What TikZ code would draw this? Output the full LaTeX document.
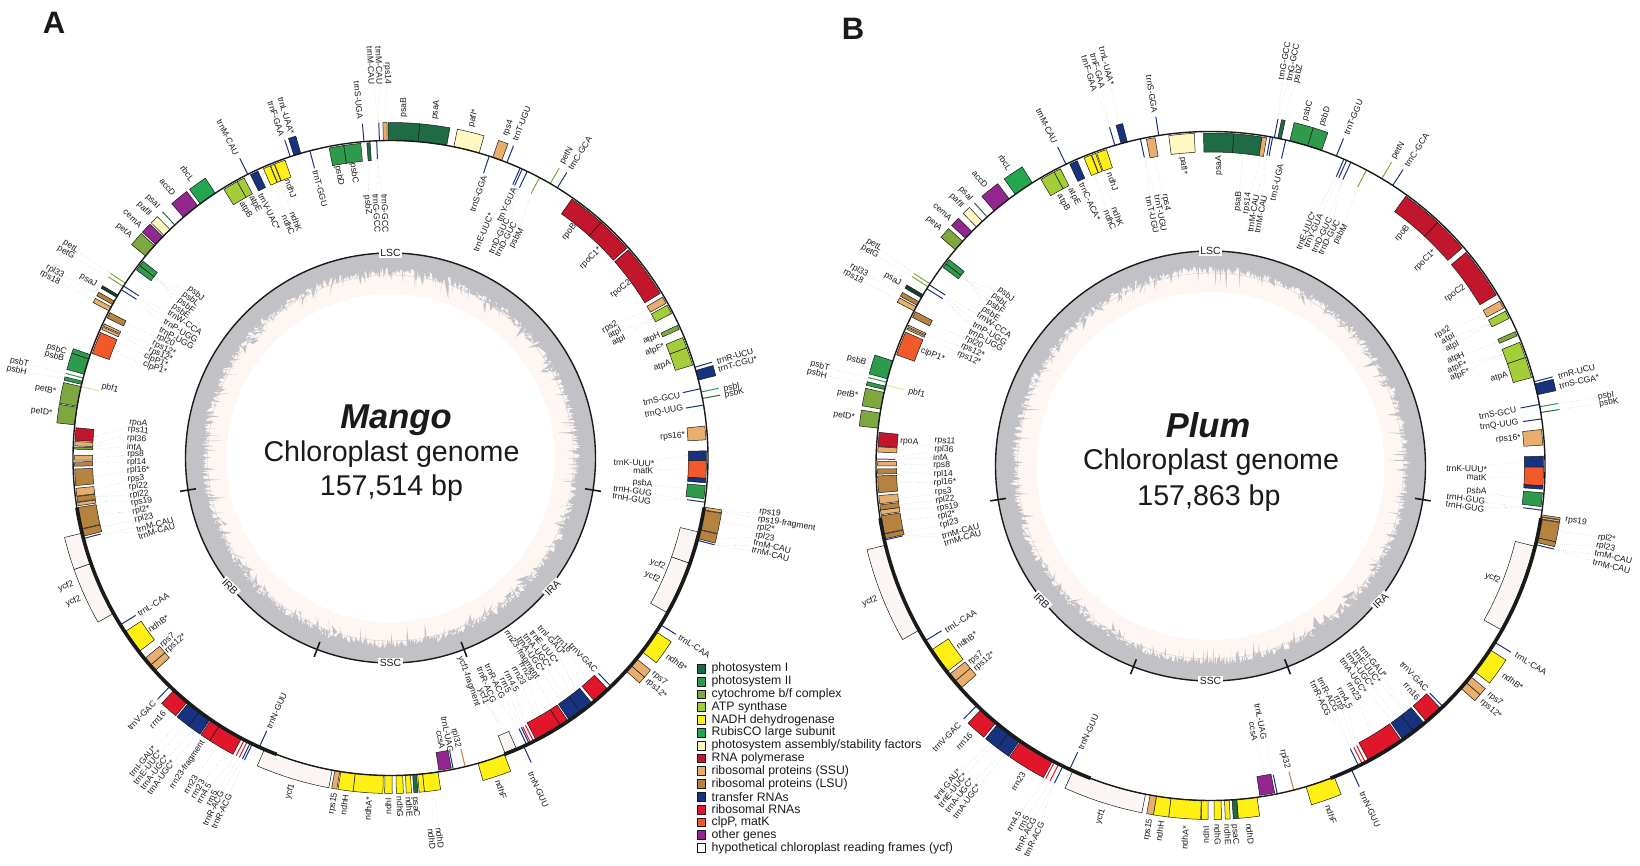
\documentclass[tikz,border=0pt]{standalone}
\usepackage{fontspec}
\setmainfont{Liberation Sans}
\usepackage{xcolor}
\definecolor{psI}{HTML}{1F6B45}
\definecolor{psII}{HTML}{2E9A4C}
\definecolor{cyt}{HTML}{7CA83F}
\definecolor{atps}{HTML}{A4CE39}
\definecolor{ndh}{HTML}{FFF014}
\definecolor{rbc}{HTML}{22A650}
\definecolor{asm}{HTML}{FFF8C0}
\definecolor{rnap}{HTML}{C2162D}
\definecolor{ssu}{HTML}{E8AE6E}
\definecolor{lsu}{HTML}{B5833F}
\definecolor{trna}{HTML}{17337F}
\definecolor{rrna}{HTML}{E2162B}
\definecolor{clp}{HTML}{F1592A}
\definecolor{oth}{HTML}{93278F}
\definecolor{ycf}{HTML}{FBF5F3}
\definecolor{pbf}{HTML}{DDE59A}
\definecolor{gcGray}{HTML}{C2C2C6}
\definecolor{gcPink}{HTML}{FDF6F3}
\definecolor{inkDark}{HTML}{1A1A1A}
\usepackage{tikz}
\usetikzlibrary{positioning}
\tikzset{
  gene/.style={draw=inkDark,line width=.25pt},
  barline/.style={line width=.5pt},
  genelab/.style={font=\fontsize{4.3}{5}\selectfont,text=inkDark,inner sep=.4pt},
  leader/.style={draw=black!45,line width=.15pt,densely dotted},
  ringlab/.style={font=\fontsize{5.2}{6}\selectfont,fill=white,inner sep=.8pt,text=inkDark},
  ticklab/.style={line width=.8pt,draw=inkDark},
  swatch/.style={draw=inkDark,line width=.25pt,minimum size=4.4pt,inner sep=0pt},
  legtxt/.style={font=\fontsize{6.15}{7}\selectfont,text=inkDark,inner sep=0pt,anchor=west},
  panelName/.style={font=\fontsize{15.5}{17}\selectfont\bfseries,text=inkDark},
  plantName/.style={font=\fontsize{17.25}{19}\selectfont\bfseries\itshape,text=inkDark},
  genomeText/.style={font=\fontsize{14.3}{16}\selectfont,text=inkDark}
}
\newcounter{labn}
\def\ox{0}\def\oy{0}
\newcommand{\org}[2]{\def\ox{#1}\def\oy{#2}}
\newcommand{\lab}[3]{%
  \stepcounter{labn}%
  \pgfmathsetmacro\lx{\ox+#1/3}%
  \pgfmathsetmacro\ly{\oy+#2/3}%
  \pgfmathsetmacro\lth{atan2(\lx-\cx,\cy-\ly)}%
  \pgfmathsetmacro\lrot{\lth>=0 ? 90-\lth : -90-\lth}%
  \node[genelab,rotate=\lrot] (lab\thelabn) at (\lx,\ly) {#3};}
\newcommand{\leadline}[2]{%
  \coordinate (g\thelabn) at ({\cx+(#1)*sin(#2)},{\cy-(#1)*cos(#2)});
  \draw[leader] (lab\thelabn) -- (g\thelabn);}
\newcommand{\labi}[4]{\lab{#1}{#2}{#3}\leadline{\rad-1.5-\thk}{#4}}
\newcommand{\labo}[4]{\lab{#1}{#2}{#3}\leadline{\rad+\thk}{#4}}
\newcommand{\genesOut}[1]{\foreach \ta/\tb/\col in {#1}{
  \draw[gene,fill=\col] (90-\ta:\rad) arc[start angle=90-\ta,end angle=90-\tb,radius=\rad]
    -- (90-\tb:\rad+\thk) arc[start angle=90-\tb,end angle=90-\ta,radius=\rad+\thk] -- cycle;}}
\newcommand{\genesIn}[1]{\foreach \ta/\tb/\col in {#1}{
  \draw[gene,fill=\col] (90-\ta:\rad-1.5) arc[start angle=90-\ta,end angle=90-\tb,radius=\rad-1.5]
    -- (90-\tb:\rad-1.5-\thk) arc[start angle=90-\tb,end angle=90-\ta,radius=\rad-1.5-\thk] -- cycle;}}
\newcommand{\barsOut}[1]{\foreach \ta/\col in {#1}{\draw[barline,\col] (90-\ta:\rad) -- (90-\ta:\rad+\thk);}}
\newcommand{\barsIn}[1]{\foreach \ta/\col in {#1}{\draw[barline,\col] (90-\ta:\rad) -- (90-\ta:\rad-\thk);}}
% ring, quadrant arcs and the GC band
\newcommand{\rings}[1]{%
  \fill[gcPink] (0,0) circle[radius=#1];
  \fill[gcGray,even odd rule] (0,0) circle[radius=#1]
    plot[domain=0:360,samples=1600,variable=\t] (\t:{#1-14-9*rnd-16*rnd^10}) -- cycle;
  \draw[gcGray,line width=.12pt] (0,0) circle[radius=#1-22];
  \fill[white] (0,0) circle[radius=#1-41];
  \draw[inkDark,line width=.7pt] (0,0) circle[radius=#1];
  \foreach \t in {99,159,201,261}{\draw[ticklab] (90-\t:#1+8) -- (90-\t:#1-8);}
  \draw[inkDark,line width=.7pt] (0,0) circle[radius=\rad];
  \draw[inkDark,line width=1.8pt] (90-99:\rad) arc[start angle=90-99,end angle=90-159,radius=\rad];
  \draw[inkDark,line width=1.8pt] (90-201:\rad) arc[start angle=90-201,end angle=90-261,radius=\rad];
}
\begin{document}
\begin{tikzpicture}[x=.5pt,y=-.5pt]
\useasboundingbox (0,0) rectangle (1640,866);
\pgfmathsetseed{1234}

% ---- panel A ----
\def\cx{390.5}\def\cy{458}\def\rad{317.5}\def\thk{18}
\node[panelName] (nameA) at (54,23) {A};
\org{0}{0}
\labo{1162}{220}{rps14}{359}
\labo{1137}{197}{trnM-CAU}{358}
\labo{1112}{197}{trnM-CAU}{358}
\lab{1075}{300}{trnS-UGA}
\lab{1212}{322}{psaB}
\lab{858}{347}{trnL-UAA*}
\lab{828}{355}{trnF-GAA}
\lab{683}{412}{trnM-CAU}
\lab{562}{520}{rbcL}
\lab{503}{562}{accD}
\lab{458}{605}{psaI}
\lab{433}{627}{pafII}
\lab{398}{655}{cemA}
\lab{372}{692}{petA}
\lab{737}{630}{atpB}
\lab{765}{612}{atpE}
\lab{808}{635}{trnV-UAC*}
\lab{872}{565}{ndhJ}
\labi{888}{665}{ndhK}{338}
\labi{865}{675}{ndhC}{337}
\lab{960}{565}{trnT-GGU}
\lab{1018}{527}{psbD}
\lab{1062}{520}{psbC}
\labi{1103}{615}{psbZ}{356}
\labi{1130}{640}{trnG-GCC}{357.5}
\labi{1155}{640}{trnG-GCC}{357.5}
\labo{212}{740}{petL}{303.4}
\labo{198}{758}{petG}{302.7}
\labo{165}{815}{rpl33}{299.3}
\labo{150}{833}{rps18}{298}
\lab{265}{842}{psaJ}
\labi{588}{880}{psbJ}{307}
\labi{572}{898}{psbL}{307}
\labi{558}{917}{psbF}{307.5}
\labi{543}{935}{psbE}{308}
\labi{555}{968}{trnW-CCA}{302.8}
\labi{542}{993}{trnP-UGG}{302.4}
\labi{530}{1015}{trnP-UGG}{302}
\labi{497}{1022}{rpl20}{297}
\labi{492}{1045}{rps12*}{294.8}
\labi{482}{1065}{rps12*}{294.2}
\labi{468}{1082}{clpP1*}{293}
\labi{465}{1105}{clpP1*}{291}
\lab{170}{1048}{psbC}
\lab{163}{1070}{psbB}
\labo{58}{1087}{psbT}{284.6}
\labo{50}{1112}{psbH}{283.7}
\lab{137}{1170}{petB*}
\lab{125}{1236}{petD*}
\labi{330}{1165}{pbf1}{283}
\labi{415}{1270}{rpoA}{274}
\labi{415}{1292}{rps11}{272.6}
\org{0}{433}
\labi{410}{18}{rpl36}{272.2}
\labi{403}{42}{infA}{271.8}
\labi{407}{65}{rps8}{270}
\labi{410}{88}{rpl14}{269}
\labi{415}{112}{rpl16*}{266.5}
\labi{408}{138}{rps3}{263.8}
\labi{415}{160}{rpl22}{262.5}
\labi{418}{185}{rpl22}{262.5}
\labi{425}{207}{rps19}{261.6}
\labi{423}{232}{rpl2*}{259}
\labi{432}{255}{rpl23}{256.5}
\labi{465}{275}{trnM-CAU}{255.3}
\labi{470}{295}{trnM-CAU}{255.3}
\lab{198}{460}{ycf2}
\lab{220}{505}{ycf2}
\lab{460}{515}{trnL-CAA}
\lab{475}{572}{ndhB*}
\lab{503}{622}{rps7}
\lab{527}{632}{rps12*}
\lab{425}{848}{trnV-GAC}
\lab{473}{860}{rrn16}
\lab{830}{833}{trnN-GUU}
\labo{428}{985}{trnI-GAU*}{218.5}
\labo{443}{1003}{trnE-UUC*}{217.5}
\labo{463}{1018}{trnA-UGC*}{216}
\labo{483}{1033}{trnA-UGC*}{215}
\labo{562}{995}{rrn23-fragment}{213.5}
\labo{572}{1055}{rrn23}{211}
\labo{593}{1068}{rrn23}{209}
\labo{612}{1082}{rrn4.5}{207.4}
\labo{635}{1095}{rrn5}{206.8}
\labo{640}{1125}{trnR-ACG}{206.2}
\labo{665}{1135}{trnR-ACG}{205.8}
\lab{870}{1075}{ycf1}
\lab{1000}{1112}{rps15}
\lab{1033}{1115}{ndhH}
\lab{1105}{1127}{ndhA*}
\lab{1165}{1120}{ndhI}
\lab{1200}{1122}{ndhG}
\lab{1228}{1122}{ndhE}
\lab{1247}{1122}{psaC}
\org{420}{0}
\lab{48}{330}{psaA}
\lab{160}{355}{pafI*}
\lab{265}{385}{rps4}
\lab{305}{370}{trnT-UGU}
\lab{175}{582}{trnS-GGA}
\lab{440}{467}{petN}
\lab{480}{460}{trnC-GCA}
\labi{190}{697}{trnE-UUC*}{24.1}
\labi{260}{615}{trnY-GUA}{24.5}
\labi{237}{708}{trnD-GUC}{25.5}
\labi{257}{718}{trnD-GUC}{25.5}
\labi{290}{715}{psbM}{28}
\lab{448}{697}{rpoB}
\lab{512}{775}{rpoC1*}
\lab{602}{868}{rpoC2}
\labi{570}{982}{rps2}{60}
\labi{585}{1000}{atpI}{62}
\labi{597}{1022}{atpI}{62}
\lab{695}{1015}{atpH}
\lab{705}{1050}{atpF*}
\lab{727}{1098}{atpA}
\lab{945}{1068}{trnR-UCU}
\lab{953}{1092}{trnT-CGU*}
\lab{935}{1162}{psbI}
\lab{943}{1180}{psbK}
\lab{725}{1197}{trnS-GCU}
\lab{732}{1235}{trnQ-UUG}
\org{420}{433}
\lab{758}{10}{rps16*}
\labi{642}{90}{trnK-UUU*}{89.5}
\labi{670}{113}{matK}{92}
\labi{668}{152}{psbA}{96}
\labi{638}{173}{trnH-GUG}{98}
\labi{635}{197}{trnH-GUG}{98}
\labo{1050}{240}{rps19}{99.2}
\labo{1100}{272}{rps19-fragment}{99.2}
\labo{1037}{287}{rpl2*}{101}
\labo{1035}{312}{rpl23}{104}
\labo{1057}{340}{trnM-CAU}{105}
\labo{1052}{363}{trnM-CAU}{105}
\lab{713}{395}{ycf2}
\lab{697}{432}{ycf2}
\lab{823}{640}{trnL-CAA}
\lab{770}{688}{ndhB*}
\lab{718}{737}{rps7}
\lab{708}{767}{rps12*}
\lab{490}{675}{trnV-GAC}
\labi{430}{632}{rrn16}{138.5}
\labi{395}{622}{trnI-GAU*}{141.5}
\labi{373}{642}{trnE-UUC*}{142.5}
\labi{352}{655}{trnA-UGC*}{144}
\labi{333}{665}{trnA-UGC*}{145}
\labi{305}{665}{rrn23-fragment}{147}
\labi{320}{715}{rrn23}{150}
\labi{297}{728}{rrn23}{151}
\labi{275}{745}{rrn4.5}{153.2}
\labi{257}{757}{rrn5}{153.8}
\labi{225}{745}{trnR-ACG}{154.1}
\labi{200}{755}{trnR-ACG}{154.6}
\labi{190}{790}{ycf1}{157.7}
\labi{147}{745}{ycf1-fragment}{156.8}
\lab{355}{1070}{trnN-GUU}
\lab{243}{1070}{ndhF}
\labi{82}{905}{trnL-UAG}{168.6}
\labi{62}{920}{ccsA}{170}
\labi{108}{915}{rpl32}{166.4}
\labo{60}{1215}{ndhD}{172.5}
\labo{35}{1218}{ndhD}{172.8}

\begin{scope}[shift={(\cx,\cy)},x=.5pt,y=.5pt]
  \genesOut{359.6/365/psI,365/370.2/psI,371.5/376.2/asm,18.8/20.5/ssu,74/75.8/trna,
    98.9/99.4/ssu,99.5/103/lsu,103.1/104.7/lsu,123.2/127.6/ndh,129.2/130.8/ssu,130.8/132.1/ssu,
    159/164/ndh,171.4/174.2/ndh,174.2/175.1/ndh,175.3/176/psI,176.4/177.3/ndh,177.8/179/ndh,
    179.7/181/ndh,181.3/186.4/ndh,186.4/189/ndh,189.2/190.1/ssu,190.6/203.4/ycf,
    208/212.6/rrna,212.6/214.4/rrna,214.6/217/trna,217/219.5/trna,219.8/223/rrna,
    240.7/250.6/ycf,250.6/256.3/ycf,276/279.2/cyt,279.4/283/cyt,283.4/284/psII,285.3/288.2/psII,288.2/289/psII,
    297.6/298.4/ssu,298.9/299.6/lsu,300.4/300.9/psI!60!black,309.5/312/cyt,312.3/314.2/oth,314.5/316/asm,
    319.3/322.6/oth,323.2/326.5/rbc,342.3/343.6/trna,358.7/359.4/ssu}
  \genesIn{35/41.8/rnap,41.8/48.4/rnap,48.8/58.6/rnap,59.4/60.7/ssu,61.1/62.8/atps,65.2/66/cyt,
    67.6/69.6/atps,69.6/72.9/atps,84.2/86.7/ssu,88.7/90.5/trna,90.5/93.7/clp,93.7/94.5/trna,95/97.4/psII,
    103.5/109.4/ycf,109.4/119.2/ycf,136.8/140/rrna,140.6/143.2/trna,143.2/145.7/trna,146/147.6/rrna,147.6/152.7/rrna,
    156.6/158.8/ycf,168.9/171.2/oth,227.9/229.2/ssu,229.2/230.8/ssu,232.4/236.8/ndh,
    255.7/257/lsu,257.1/261/lsu,261.3/261.9/ssu,262/263/lsu,263.1/264.5/ssu,265/268/lsu,268.5/269.3/lsu,
    269.6/270.5/ssu,271.6/272/cyt,272.2/273/ssu,273.2/275.5/rnap,289.3/293.4/clp,294/294.5/ssu,294.7/295.1/ssu,
    296.3/297.4/lsu,306.5/307.5/psII,307.5/308.5/psII,328.2/331/atps,331/332.4/atps,333.7/335.2/trna,
    336.3/337.6/ndh,337.7/338.4/ndh,338.5/340.5/ndh,348.8/351.5/psII,351.5/354.6/psII,355.7/356.3/psI}
  \barsIn{18.1/trna,24.1/trna,24.5/trna,25.5/trna,28/cyt,77.4/trna,80.4/trna,98/trna,136/trna,
    153.2/rrna,153.8/rrna,154.1/trna,154.6/trna,166.4/lsu,168.6/trna,204.4/trna,238.3/trna,255.3/trna,
    283/pbf,302/trna,302.8/trna,345.3/trna,357.5/trna}
  \barsOut{21.5/trna,30.2/cyt,31.7/trna,73.4/trna,78/psII,79.2/psI,105/trna,121.7/trna,155.2/trna,224/trna,
    205.8/trna,206.2/trna,206.8/rrna,207.4/rrna,284.6/psII,317.2/psI,302.7/cyt,303.4/cyt,333.3/trna,341.6/trna,
    355.2/trna,358/trna}
  \rings{205}
\end{scope}
\node[ringlab] (lscA) at (390.5,253) {LSC};
\node[ringlab] (sscA) at (390.5,663) {SSC};
\node[ringlab,rotate=-45] (irbA) at (230,587) {IRB};
\node[ringlab,rotate=45] (iraA) at (552.7,588) {IRA};
\node[plantName] (plantA) at (396,420) {Mango};
\node[genomeText] (chlA) at (391.5,454) {Chloroplast genome};
\node[genomeText] (bpA) at (391.5,488) {157,514 bp};

% ---- panel B ----
\def\cx{1210.5}\def\cy{466}\def\rad{334.5}\def\thk{19}
\node[panelName] (nameB) at (853,29) {B};
\org{820}{0}
\labo{860}{198}{trnL-UAA*}{345}
\labo{833}{212}{trnF-GAA}{343.4}
\labo{808}{220}{trnF-GAA}{343.4}
\lab{995}{282}{trnS-GGA}
\lab{680}{378}{trnM-CAU}
\lab{555}{488}{rbcL}
\lab{480}{538}{accD}
\lab{437}{582}{psaI}
\lab{410}{603}{pafII}
\lab{368}{635}{cemA}
\lab{342}{672}{petA}
\lab{762}{590}{atpE}
\lab{730}{608}{atpB}
\lab{810}{605}{trnC-ACA*}
\lab{878}{545}{ndhJ}
\labi{893}{650}{ndhK}{339.5}
\labi{870}{660}{ndhC}{338.3}
\labi{1038}{607}{rps4}{349.6}
\labi{1022}{640}{trnT-UGU}{347.9}
\labi{997}{645}{trnT-UGU}{347.9}
\lab{1090}{497}{pafI*}
\lab{1197}{497}{psaA}
\labo{163}{735}{petL}{303}
\labo{150}{755}{petG}{302.4}
\labo{117}{812}{rpl33}{299}
\labo{100}{830}{rps18}{298}
\lab{218}{838}{psaJ}
\labi{558}{885}{psbJ}{307}
\labi{540}{903}{psbL}{307}
\labi{527}{922}{psbF}{307.5}
\labi{512}{942}{psbE}{308}
\labi{523}{975}{trnW-CCA}{302.8}
\labi{510}{1000}{trnP-UGG}{302.4}
\labi{498}{1020}{trnP-UGG}{302}
\labi{462}{1027}{rpl20}{297}
\labi{458}{1052}{rps12*}{294.8}
\labi{447}{1075}{rps12*}{294.4}
\lab{338}{1065}{clpP1*}
\lab{110}{1082}{psbB}
\labo{0}{1098}{psbT}{284.5}
\labo{-9}{1122}{psbH}{283.4}
\labi{290}{1180}{pbf1}{284}
\lab{83}{1183}{petB*}
\lab{72}{1248}{petD*}
\org{820}{433}
\lab{268}{27}{rpoA}
\labi{375}{25}{rps11}{272.8}
\labi{372}{50}{rpl36}{271.6}
\labi{362}{73}{infA}{271.2}
\labi{365}{98}{rps8}{270.4}
\labi{370}{123}{rpl14}{269}
\labi{375}{148}{rpl16*}{267}
\labi{370}{177}{rps3}{264}
\labi{375}{200}{rpl22}{263}
\labi{383}{223}{rps19}{262}
\labi{380}{248}{rpl2*}{260}
\labi{388}{272}{rpl23}{257.8}
\labi{422}{295}{trnM-CAU}{257.2}
\labi{428}{315}{trnM-CAU}{257.2}
\lab{150}{505}{ycf2}
\lab{422}{565}{trnL-CAA}
\lab{440}{622}{ndhB*}
\lab{467}{675}{rps7}
\lab{493}{687}{rps12*}
\lab{380}{912}{trnV-GAC}
\lab{433}{925}{rrn16}
\lab{805}{897}{trnN-GUU}
\labo{382}{1055}{trnI-GAU*}{218.5}
\labo{398}{1072}{trnE-UUC*}{218}
\labo{418}{1088}{trnA-UGC*}{216}
\labo{440}{1105}{trnA-UGC*}{215.5}
\lab{595}{1045}{rrn23}
\labo{582}{1165}{rrn4.5}{207.8}
\labo{610}{1170}{rrn5}{207}
\labo{617}{1205}{trnR-ACG}{206.2}
\labo{642}{1220}{trnR-ACG}{206.2}
\lab{842}{1150}{ycf1}
\lab{985}{1190}{rps15}
\lab{1020}{1195}{ndhH}
\lab{1095}{1215}{ndhA*}
\lab{1158}{1205}{ndhI}
\lab{1193}{1205}{ndhG}
\lab{1223}{1205}{ndhE}
\lab{1245}{1205}{psaC}
\org{1220}{0}
\labo{193}{182}{trnG-GCC}{11}
\labo{218}{187}{trnG-GCC}{11}
\labo{235}{222}{psbZ}{11.9}
\lab{263}{333}{psbC}
\lab{315}{350}{psbD}
\lab{400}{352}{trnT-GGU}
\lab{170}{547}{trnS-UGA}
\lab{535}{452}{petN}
\lab{590}{450}{trnC-GCA}
\labi{55}{605}{psaB}{6}
\labi{82}{610}{rps14}{9.3}
\labi{100}{640}{trnM-CAU}{10.3}
\labi{122}{643}{trnM-CAU}{10.3}
\labi{258}{692}{trnE-UUC*}{23.5}
\labi{280}{692}{trnY-GUA}{24}
\labi{305}{705}{trnD-GUC}{24.8}
\labi{327}{712}{trnD-GUC}{24.8}
\labi{362}{703}{psbM}{27.8}
\lab{547}{700}{rpoB}
\lab{615}{782}{rpoC1*}
\lab{705}{880}{rpoC2}
\labi{668}{998}{rps2}{61}
\labi{685}{1017}{atpI}{63}
\labi{697}{1040}{atpI}{63}
\labi{708}{1075}{atpH}{66.6}
\labi{712}{1103}{atpF*}{69}
\labi{720}{1125}{atpF*}{69}
\lab{838}{1132}{atpA}
\lab{1070}{1115}{trnR-UCU}
\lab{1078}{1145}{trnS-CGA*}
\labo{1158}{1188}{psbI}{79.8}
\labo{1167}{1208}{psbK}{80.8}
\lab{833}{1240}{trnS-GCU}
\lab{838}{1275}{trnQ-UUG}
\org{1220}{433}
\lab{865}{18}{rps16*}
\labi{740}{108}{trnK-UUU*}{89}
\labi{770}{133}{matK}{92}
\labi{770}{175}{psbA}{96}
\labi{738}{197}{trnH-GUG}{97.6}
\labi{735}{222}{trnH-GUG}{97.6}
\lab{1068}{265}{rps19}
\labo{1160}{317}{rpl2*}{100.5}
\labo{1157}{342}{rpl23}{102.7}
\labo{1180}{372}{trnM-CAU}{103.6}
\labo{1175}{400}{trnM-CAU}{103.6}
\lab{818}{435}{ycf2}
\lab{933}{692}{trnL-CAA}
\lab{878}{745}{ndhB*}
\lab{825}{798}{rps7}
\lab{812}{828}{rps12*}
\lab{583}{730}{trnV-GAC}
\lab{575}{775}{rrn16}
\labi{460}{688}{trnI-GAU*}{141.5}
\labi{440}{700}{trnE-UUC*}{141.8}
\labi{420}{712}{trnA-UGC*}{143.5}
\labi{400}{727}{trnA-UGC*}{144.5}
\labi{403}{775}{rrn23}{149}
\labi{375}{795}{rrn4.5}{152.4}
\labi{360}{808}{rrn5}{153}
\labi{325}{785}{trnR-ACG}{153.7}
\labi{302}{797}{trnR-ACG}{153.7}
\lab{450}{1130}{trnN-GUU}
\lab{333}{1145}{ndhF}
\lab{195}{978}{rpl32}
\labi{122}{865}{trnL-UAG}{168.5}
\labi{100}{895}{ccsA}{170}
\lab{90}{1203}{ndhD}

\begin{scope}[shift={(\cx,\cy)},x=.5pt,y=.5pt]
  \genesOut{13.7/16.9/psII,16.9/19.4/psII,75.8/77.7/trna,98.4/98.7/ssu,98.8/99.1/ssu,99.2/102.4/lsu,102.4/103.2/lsu,
    123.3/127.9/ndh,129/130.3/ssu,130.3/131.6/ssu,158.3/163.4/ndh,172/175.5/ndh,175.5/176.3/psI,176.8/177.6/ndh,
    178.2/179.4/ndh,180.4/181.5/ndh,181.6/186.8/ndh,186.8/189.3/ndh,189.3/190.4/ssu,191.2/204.3/ycf,
    208.2/214.6/rrna,214.8/217.1/trna,217.1/219.5/trna,219.9/223.3/rrna,240.6/256.3/ycf,
    276.5/279.1/cyt,279.8/282.7/cyt,283.2/283.8/psII,285.1/288.3/psII,297.6/298.4/ssu,298.7/299.4/lsu,300.2/300.8/psI!60!black,
    310.3/312.2/cyt,312.9/314.5/oth,315.6/317/asm,319.7/323/oth,324.3/327.8/rbc,344.5/345.6/trna,11.6/12.2/psI}
  \genesIn{4/8.9/psI,-1.2/4/psI,8.9/9.7/ssu,352.8/357.2/asm,348.9/350.4/ssu,35.9/43/rnap,43/49.1/rnap,50.1/59.1/rnap,
    60.3/61.7/ssu,62.3/63.7/atps,66.2/67/cyt,68.2/71/atps,71/74.6/atps,83.7/86.4/ssu,88.3/90.2/trna,90.2/93.4/clp,
    93.4/94/trna,94.6/97/psII,103.9/119.4/ycf,136.5/139.8/rrna,140.3/142.6/trna,142.6/144.9/trna,145.2/151.8/rrna,
    168.9/171.5/oth,228.3/229.9/ssu,229.9/231.4/ssu,232/236.6/ndh,257.4/258.2/lsu,258.3/261.4/lsu,261.6/262.4/ssu,
    262.4/263.3/lsu,263.5/264.9/ssu,265.4/268.3/lsu,268.6/269.5/lsu,270/270.8/ssu,272.4/273.3/ssu,273.4/275.8/rnap,
    289.5/293.7/clp,294.2/294.5/ssu,294.7/295/ssu,296.5/297.6/lsu,306.6/307.4/psII,307.4/308.3/psII,
    329.4/332/atps,332/333.2/atps,335/336.4/trna,337.7/339/ndh,339.1/339.8/ndh,340/341.8/ndh}
  \barsIn{13/trna,10.3/trna,10.7/trna,347.9/trna,23.5/trna,24/trna,24.8/trna,27.8/cyt,79.4/trna,81.9/trna,97.6/trna,
    136/trna,152.4/rrna,153/rrna,153.7/trna,165.6/lsu,168.5/trna,204.9/trna,238.5/trna,257.2/trna,271.2/oth,284/pbf,
    302/trna,302.8/trna}
  \barsOut{11/trna,22.1/trna,30.8/cyt,33/trna,75.4/trna,79.8/psII,80.8/psI,103.6/trna,121.8/trna,155.1/trna,224.3/trna,
    206.2/trna,207/rrna,207.8/rrna,284.5/psII,318.1/psI,302.4/cyt,303/cyt,334.4/trna,343.4/trna,351.1/trna}
  \rings{215}
\end{scope}
\node[ringlab] (lscB) at (1210.5,251) {LSC};
\node[ringlab] (sscB) at (1210.5,681) {SSC};
\node[ringlab,rotate=-45] (irbB) at (1041.7,600.7) {IRB};
\node[ringlab,rotate=45] (iraB) at (1380.7,601) {IRA};
\node[plantName] (plantB) at (1208,425) {Plum};
\node[genomeText] (chlB) at (1211,462) {Chloroplast genome};
\node[genomeText] (bpB) at (1209,498) {157,863 bp};

% legend
\foreach \col/\txt [count=\i] in {psI/photosystem I,psII/photosystem II,cyt/{cytochrome b/f complex},
    atps/ATP synthase,ndh/NADH dehydrogenase,rbc/RubisCO large subunit,
    asm/{photosystem assembly/stability factors},rnap/RNA polymerase,ssu/ribosomal proteins (SSU),
    lsu/ribosomal proteins (LSU),trna/transfer RNAs,rrna/ribosomal RNAs,clp/{clpP, matK},oth/other genes,
    white/hypothetical chloroplast reading frames (ycf)}{
  \node[swatch,fill=\col] (sw\i) at (701.2,{668.7+12.8*(\i-1)}) {};
  \node[legtxt,right=2.7pt of sw\i] (lg\i) {\txt};
}
\end{tikzpicture}
\end{document}
